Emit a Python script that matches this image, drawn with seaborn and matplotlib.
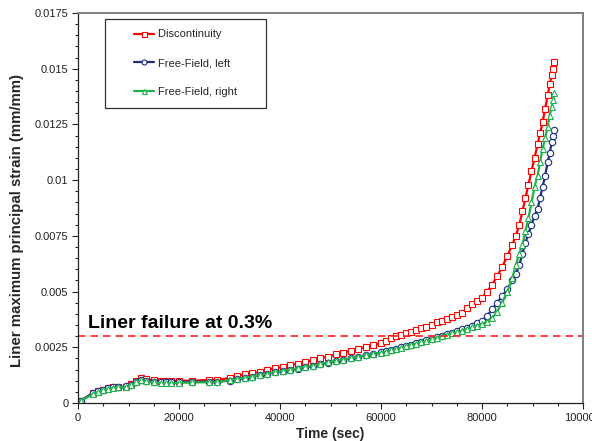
import matplotlib
matplotlib.use("Agg")
import matplotlib.pyplot as plt
from matplotlib.ticker import MultipleLocator, FuncFormatter
from matplotlib.legend_handler import HandlerLine2D
from matplotlib.lines import Line2D
import seaborn as sns

# Simulation output times (s)
time_s = [0, 500, 3000, 4000, 5000, 6000, 7000, 8000, 9500, 10500, 11500, 12500,
          13500, 15000, 16500, 17500, 18500, 20000, 22500, 26000, 27500, 30000,
          31500, 33000, 34500, 36000, 37500, 39000, 40500, 42000, 43500, 45000,
          46500, 48000, 49500, 51000, 52500, 54000, 55500, 57000, 58500, 60000,
          61000, 62000, 63000, 64000, 65000, 66000, 67000, 68000, 69000, 70000,
          71000, 72000, 73000, 74000, 75000, 76000, 77000, 78000, 79000, 80000,
          81000, 82000, 83000, 84000, 85000, 86000, 86700, 87400, 88000, 88600,
          89200, 89800, 90400, 91000, 91500, 92000, 92500, 93000, 93400, 93800,
          94100, 94300]

# Liner maximum principal strain (mm/mm)
discontinuity = [0.0, 0.0001, 0.00045, 0.00055, 0.0006, 0.00066, 0.0007, 0.0007,
                 0.00072, 0.00085, 0.001, 0.0011, 0.00107, 0.00102, 0.001, 0.001,
                 0.001, 0.001, 0.001, 0.00103, 0.00103, 0.00112, 0.00122, 0.00128,
                 0.00133, 0.0014, 0.00148, 0.00155, 0.00162, 0.00169, 0.00176,
                 0.00184, 0.00192, 0.002, 0.00208, 0.00218, 0.00226, 0.00234,
                 0.00242, 0.00252, 0.0026, 0.00268, 0.00276, 0.0029, 0.003,
                 0.00307, 0.00314, 0.0032, 0.00327, 0.00335, 0.00343, 0.0035,
                 0.00362, 0.0037, 0.00378, 0.00386, 0.00393, 0.00405, 0.00425,
                 0.00442, 0.00458, 0.00473, 0.005, 0.0053, 0.0057, 0.0061, 0.0066,
                 0.0071, 0.0075, 0.008, 0.0086, 0.0092, 0.0098, 0.0104, 0.011,
                 0.0116, 0.0121, 0.0126, 0.0132, 0.0138, 0.0143, 0.0147, 0.015,
                 0.0153]

free_field_left = [0.0, 0.0001, 0.00045, 0.00052, 0.0006, 0.00066, 0.0007, 0.00072,
                   0.00074, 0.00082, 0.00095, 0.00105, 0.001, 0.00095, 0.00092,
                   0.00092, 0.00093, 0.00094, 0.00095, 0.00095, 0.00096, 0.001,
                   0.00106, 0.00112, 0.00118, 0.00125, 0.00131, 0.00137, 0.00143,
                   0.00149, 0.00154, 0.0016, 0.00166, 0.00173, 0.0018, 0.00187,
                   0.00193, 0.002, 0.00207, 0.00214, 0.0022, 0.00227, 0.00232,
                   0.00237, 0.00243, 0.00249, 0.00255, 0.00261, 0.00267, 0.00274,
                   0.00281, 0.00288, 0.00295, 0.00301, 0.00308, 0.00315, 0.00322,
                   0.0033, 0.00338, 0.00347, 0.00357, 0.00368, 0.0039, 0.0042,
                   0.0045, 0.0048, 0.0051, 0.0055, 0.0058, 0.0062, 0.0067, 0.0072,
                   0.0076, 0.008, 0.0084, 0.0087, 0.0092, 0.0097, 0.0102, 0.0108,
                   0.0112, 0.0117, 0.012, 0.01225]

free_field_right = [0.0, 0.0001, 0.0004, 0.0005, 0.00058, 0.00064, 0.00068, 0.0007,
                    0.00072, 0.0008, 0.00092, 0.00102, 0.00097, 0.00092, 0.00088,
                    0.00088, 0.00089, 0.0009, 0.00092, 0.00093, 0.00094, 0.00102,
                    0.00108, 0.00113, 0.00118, 0.00125, 0.00132, 0.00138, 0.00144,
                    0.0015, 0.00156, 0.00162, 0.00168, 0.00175, 0.00182, 0.00189,
                    0.00195, 0.00201, 0.00208, 0.00214, 0.0022, 0.00226, 0.00231,
                    0.00236, 0.00242, 0.00248, 0.00254, 0.0026, 0.00266, 0.00272,
                    0.00279, 0.00286, 0.00293, 0.003, 0.00306, 0.00312, 0.00318,
                    0.00325, 0.00332, 0.00339, 0.00347, 0.00355, 0.00365, 0.0038,
                    0.0041, 0.0045, 0.005, 0.0056, 0.0062, 0.0067, 0.0071, 0.0077,
                    0.0083, 0.009, 0.0097, 0.0102, 0.0108, 0.0114, 0.0119, 0.0124,
                    0.0129, 0.0133, 0.0136, 0.0139]

series_labels = ["Discontinuity", "Free-Field, left", "Free-Field, right"]
failure_strain = 0.003
y_ticks = [0, 0.0025, 0.005, 0.0075, 0.01, 0.0125, 0.015, 0.0175]
x_ticks = [0, 20000, 40000, 60000, 80000, 100000]

sns.set_style("white")
plt.rcParams["font.family"] = ["Liberation Sans", "DejaVu Sans"]

fig = plt.figure(figsize=(5.92, 4.41), dpi=100)
ax = fig.add_axes([0.1318, 0.0862, 0.853, 0.8843])

styles = [
    dict(values=discontinuity, color="#FF0000", marker="s"),
    dict(values=free_field_left, color="#1B2F80", marker="o"),
    dict(values=free_field_right, color="#1FB24A", marker="^"),
]

for label, st in zip(series_labels, styles):
    sns.lineplot(x=time_s, y=st["values"], ax=ax, label=label,
                 color=st["color"], linewidth=1.6, marker=st["marker"],
                 markersize=4.6, markerfacecolor="white",
                 markeredgecolor=st["color"], markeredgewidth=0.8,
                 sort=False, estimator=None)

ax.axhline(failure_strain, color="#FF2020", linestyle=(0, (4.5, 3)), linewidth=1.2)
ax.text(2000, 0.00337, "Liner failure at 0.3%", fontsize=14, fontweight="bold",
        ha="left", va="baseline", color="black")

ax.set_xlim(0, 100000)
ax.set_ylim(0, 0.0175)
ax.set_xticks(x_ticks)
ax.set_yticks(y_ticks)
ax.xaxis.set_minor_locator(MultipleLocator(5000))
ax.yaxis.set_minor_locator(MultipleLocator(0.0005))
ax.yaxis.set_major_formatter(FuncFormatter(lambda v, p: "0" if v == 0 else f"{v:g}"))
ax.tick_params(axis="both", which="major", direction="out", length=4, width=0.8,
               labelsize=8, colors="#222222", left=True, bottom=True, pad=3)
ax.tick_params(axis="both", which="minor", direction="out", length=2.5, width=0.8,
               left=True, bottom=True, colors="#222222")

ax.set_xlabel("Time (sec)", fontsize=10, fontweight="bold", labelpad=3)
ax.set_ylabel("Liner maximum principal strain (mm/mm)", fontsize=10.8,
              fontweight="bold")
ax.yaxis.set_label_coords(-0.106, 0.469)

for side in ["left", "bottom"]:
    ax.spines[side].set_color("#222222")
    ax.spines[side].set_linewidth(0.9)
for side in ["top", "right"]:
    ax.spines[side].set_color("#808080")
    ax.spines[side].set_linewidth(1.4)

# legend: short line samples indented from the frame's left edge
handles, labels = ax.get_legend_handles_labels()
padded = [lab + "      " for lab in labels]
leg = ax.legend(handles, padded, loc="upper left", bbox_to_anchor=(0.053, 0.985),
                fontsize=8, frameon=True, fancybox=False, framealpha=1,
                edgecolor="#333333", labelspacing=1.7, handlelength=3.5,
                handletextpad=0.35, borderpad=0.95, borderaxespad=0,
                handler_map={Line2D: HandlerLine2D(xpad=1.7)})
leg.get_frame().set_linewidth(0.9)
for h in leg.legend_handles:
    h.set_markersize(3.6)

fig.savefig("out.png", dpi=100)
